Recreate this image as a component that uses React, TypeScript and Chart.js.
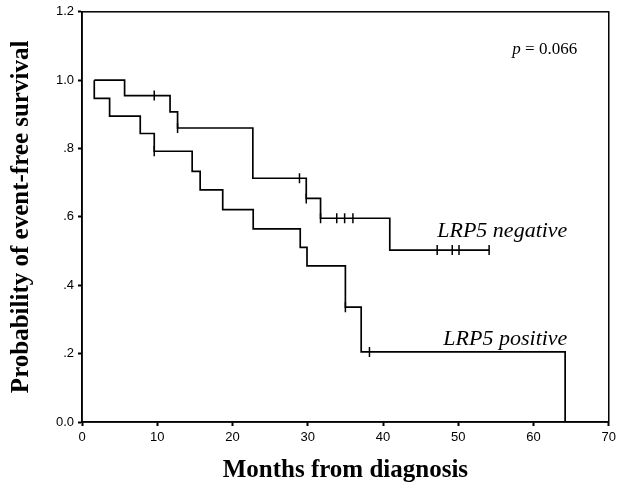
import React, { useEffect, useRef } from "react";
import { Chart, registerables } from "chart.js";

Chart.register(...registerables);

// LRP5 negative: event times (months) and survival after each step
const negMonths = [1.63, 5.66, 11.7, 12.7, 22.7, 29.8, 31.7, 40.9, 54.1];
const negSurv = [1.0, 0.955, 0.907, 0.86, 0.713, 0.654, 0.596, 0.503, 0.503];
const negCensored = [9.6, 12.7, 28.9, 29.8, 31.7, 33.85, 34.9, 36.0, 47.2, 49.2, 50.1, 54.1];

// LRP5 positive
const posMonths = [1.63, 1.63, 3.67, 7.74, 9.6, 14.64, 15.7, 18.7, 22.75, 29.0, 29.9, 35.0, 37.1, 64.2];
const posSurv = [1.0, 0.947, 0.895, 0.844, 0.792, 0.733, 0.679, 0.621, 0.565, 0.511, 0.457, 0.336, 0.205, 0];
const posCensored = [9.6, 35.0, 38.2];

const xTicks = [0, 10, 20, 30, 40, 50, 60, 70];
const yTickLabels = ["0.0", ".2", ".4", ".6", ".8", "1.0", "1.2"];

const curveLabels = ["LRP5 negative", "LRP5 positive"];
const curveLabelX = [64.5, 64.5];
const curveLabelY = [0.54, 0.225];
const pValueText = "0.066";
const pValueX = 65.8;
const pValueY = 1.077;

function survAt(months: number[], surv: number[], t: number): number {
  let v = surv[0];
  for (let i = 0; i < months.length; i++) {
    if (months[i] <= t) v = surv[i];
  }
  return v;
}

const SERIF = "'Liberation Serif', 'Times New Roman', serif";
const SANS = "'Liberation Sans', Arial, sans-serif";

export default function App() {
  const ref = useRef<HTMLCanvasElement | null>(null);

  useEffect(() => {
    if (!ref.current) return;
    const negLine = negMonths.map((m, i) => ({ x: m, y: negSurv[i] }));
    const posLine = posMonths.map((m, i) => ({ x: m, y: posSurv[i] }));
    const negCens = negCensored.map((m) => ({ x: m, y: survAt(negMonths, negSurv, m) }));
    const posCens = posCensored.map((m) => ({ x: m, y: survAt(posMonths, posSurv, m) }));

    const decorPlugin = {
      id: "decor",
      afterDatasetsDraw(chart: any) {
        const { ctx, chartArea } = chart;
        const xs = chart.scales.x;
        const ys = chart.scales.y;
        ctx.save();
        ctx.strokeStyle = "#000";
        ctx.lineWidth = 1.5;
        ctx.strokeRect(chartArea.left, chartArea.top, chartArea.right - chartArea.left, chartArea.bottom - chartArea.top);
        ctx.fillStyle = "#000";
        ctx.textBaseline = "alphabetic";
        ctx.textAlign = "right";
        ctx.font = `italic 22px ${SERIF}`;
        curveLabels.forEach((t, i) => {
          ctx.fillText(t, xs.getPixelForValue(curveLabelX[i]), ys.getPixelForValue(curveLabelY[i]));
        });
        // p value: italic p, upright rest
        const px = xs.getPixelForValue(pValueX);
        const py = ys.getPixelForValue(pValueY);
        ctx.font = `17px ${SERIF}`;
        const rest = " = " + pValueText;
        const wRest = ctx.measureText(rest).width;
        ctx.fillText(rest, px, py);
        ctx.font = `italic 17px ${SERIF}`;
        ctx.fillText("p", px - wRest, py);
        ctx.restore();
      },
    };

    const chart = new Chart(ref.current, {
      type: "scatter",
      data: {
        datasets: [
          {
            label: "LRP5 negative",
            data: negLine,
            showLine: true,
            stepped: true,
            borderColor: "#000",
            borderWidth: 1.7,
            pointRadius: 0,
            fill: false,
          },
          {
            label: "LRP5 positive",
            data: posLine,
            showLine: true,
            stepped: true,
            borderColor: "#000",
            borderWidth: 1.7,
            pointRadius: 0,
            fill: false,
          },
          {
            label: "censored negative",
            data: negCens,
            showLine: false,
            pointStyle: "line",
            rotation: 90,
            pointRadius: 5,
            borderColor: "#000",
            backgroundColor: "#000",
            pointBorderWidth: 1.5,
          },
          {
            label: "censored positive",
            data: posCens,
            showLine: false,
            pointStyle: "line",
            rotation: 90,
            pointRadius: 5,
            borderColor: "#000",
            backgroundColor: "#000",
            pointBorderWidth: 1.5,
          },
        ],
      },
      options: {
        animation: false,
        responsive: false,
        devicePixelRatio: 1,
        layout: { padding: { left: 0, right: 11, top: 11, bottom: 0 } },
        plugins: {
          legend: { display: false },
          tooltip: { enabled: false },
        },
        scales: {
          x: {
            type: "linear",
            min: 0,
            max: 70,
            afterBuildTicks: (scale: any) => {
              scale.ticks = xTicks.map((v) => ({ value: v }));
            },
            afterFit: (scale: any) => {
              scale.height = 66;
            },
            grid: { display: true, drawOnChartArea: false, drawTicks: true, tickLength: 4, tickWidth: 2, tickColor: "#000" },
            border: { display: true, color: "#000", width: 1.5 },
            ticks: {
              color: "#000",
              padding: 4,
              maxRotation: 0,
              font: { family: SANS, size: 13 },
              callback: (v: any) => String(v),
            },
            title: {
              display: true,
              text: "Months from diagnosis",
              color: "#000",
              font: { family: SERIF, size: 25, weight: "bold" },
              padding: { top: 0, bottom: 2 },
            },
          },
          y: {
            type: "linear",
            min: 0,
            max: 1.2,
            afterBuildTicks: (scale: any) => {
              scale.ticks = yTickLabels.map((_, i) => ({ value: i * 0.2 }));
            },
            afterFit: (scale: any) => {
              scale.width = 82;
            },
            grid: { display: true, drawOnChartArea: false, drawTicks: true, tickLength: 4, tickWidth: 2, tickColor: "#000" },
            border: { display: true, color: "#000", width: 1.5 },
            ticks: {
              color: "#000",
              padding: 4,
              font: { family: SANS, size: 13 },
              callback: (_v: any, i: number) => yTickLabels[i],
            },
            title: {
              display: true,
              text: "Probability of event-free survival",
              color: "#000",
              font: { family: SERIF, size: 25, weight: "bold" },
              padding: { top: 7, bottom: 0 },
            },
          },
        },
      },
      plugins: [decorPlugin],
    } as any);
    return () => chart.destroy();
  }, []);

  return (
    <div style={{ position: "absolute", left: 0, top: 0, width: 620, height: 488, background: "#fff" }}>
      <canvas ref={ref} width={620} height={488} style={{ width: 620, height: 488, display: "block" }} />
    </div>
  );
}
